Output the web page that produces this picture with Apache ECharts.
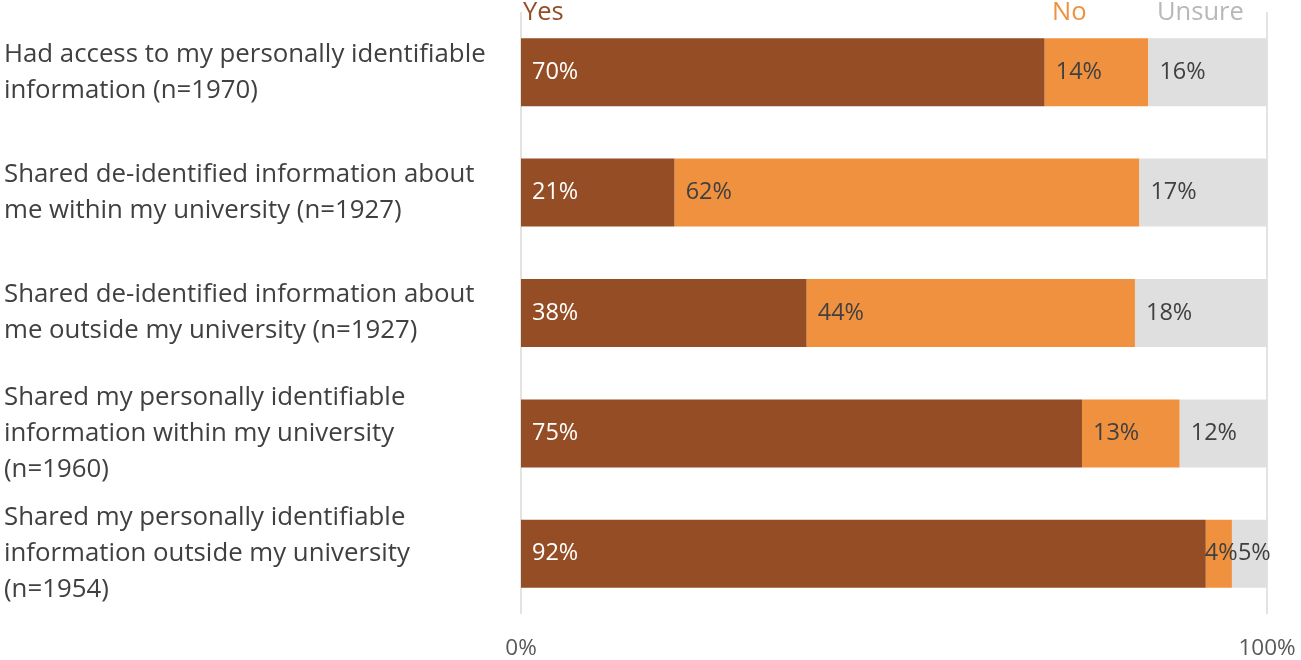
<!DOCTYPE html>
<html>
<head>
<meta charset="utf-8">
<script src="https://cdn.jsdelivr.net/npm/echarts@6/dist/echarts.min.js"></script>
<style>
html,body{margin:0;padding:0;background:#fff;}
#chart{width:1301px;height:660px;}
</style>
</head>
<body>
<div id="chart"></div>
<script>
const categories = [
  "Had access to my personally identifiable\ninformation (n=1970)",
  "Shared de-identified information about\nme within my university (n=1927)",
  "Shared de-identified information about\nme outside my university (n=1927)",
  "Shared my personally identifiable\ninformation within my university\n(n=1960)",
  "Shared my personally identifiable\ninformation outside my university\n(n=1954)"
];
const seriesNames = ["Yes", "No", "Unsure"];
const yesValues = [70.2, 20.6, 38.3, 75.2, 91.8];
const noValues = [13.9, 62.3, 44.0, 13.1, 3.5];
const unsureValues = [15.9, 17.1, 17.7, 11.7, 4.7];
const xTicks = ["0%", "100%"];

const FONT = "'Open Sans', Lato, sans-serif";
const colors = ["#954D26", "#F0913F", "#DFDFDF"];
const labelColors = ["#ffffff", "#404040", "#404040"];
const legendColors = ["#954D26", "#F0913F", "#B8B8B8"];
const legendLefts = [518, 1047, 1152];

const chart = echarts.init(document.getElementById('chart'));
const dataSets = [yesValues, noValues, unsureValues];

// narrow segments: tighter label padding so labels sit side by side
function buildData(values, seriesIdx) {
  return values.map(v => {
    if (seriesIdx > 0 && v < 6) {
      return { value: v, label: { distance: seriesIdx === 1 ? -1 : 6 } };
    }
    return v;
  });
}

const option = {
  animation: false,
  textStyle: { fontFamily: FONT },
  legend: seriesNames.map((n, i) => ({
    data: [n],
    left: legendLefts[i],
    top: 0,
    padding: 0,
    icon: 'none',
    itemWidth: 0,
    itemHeight: 0,
    selectedMode: false,
    textStyle: { fontFamily: FONT, fontSize: 25.5, color: legendColors[i] }
  })),
  grid: { left: 521, right: 34, top: 12, bottom: 45, containLabel: false },
  xAxis: {
    type: 'value',
    min: 0,
    max: 100,
    interval: 100,
    axisLine: { show: false },
    axisTick: { show: false },
    splitLine: { show: true, lineStyle: { color: '#E3E3E3', width: 2 } },
    axisLabel: {
      margin: 23,
      fontSize: 22.5,
      color: '#595959',
      fontFamily: FONT,
      formatter: v => xTicks[v === 0 ? 0 : 1]
    }
  },
  yAxis: {
    type: 'category',
    inverse: true,
    data: categories,
    axisLine: { show: false },
    axisTick: { show: false },
    axisLabel: {
      align: 'left',
      margin: 517,
      fontSize: 25.8,
      lineHeight: 36,
      color: '#404040',
      fontFamily: FONT
    }
  },
  series: seriesNames.map((n, i) => ({
    name: n,
    type: 'bar',
    stack: 'total',
    barWidth: 68,
    clip: false,
    data: buildData(dataSets[i], i),
    itemStyle: { color: colors[i] },
    label: {
      show: true,
      position: 'insideLeft',
      distance: 11,
      fontSize: 23.5,
      fontFamily: FONT,
      color: labelColors[i],
      formatter: p => Math.round(p.value) + '%'
    }
  }))
};
chart.setOption(option);
</script>
</body>
</html>
